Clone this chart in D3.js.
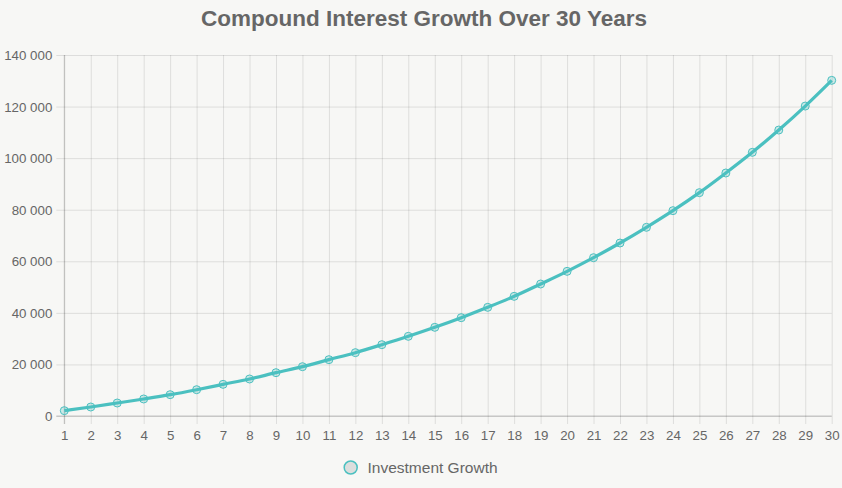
<!DOCTYPE html>
<html>
<head>
<meta charset="utf-8">
<script src="https://cdn.jsdelivr.net/npm/d3@7"></script>
<style>
  html, body { margin: 0; padding: 0; background: #f7f7f5; }
  svg { display: block; font-family: "Liberation Sans", Arial, sans-serif; }
</style>
</head>
<body>
<svg id="chart" width="842" height="488"></svg>
<script>
const title = "Compound Interest Growth Over 30 Years";
const seriesName = "Investment Growth";
const years = d3.range(1, 31);
const values = [2070, 3490, 5040, 6600, 8270, 10200, 12280, 14350, 16800, 19130,
                21850, 24560, 27660, 30900, 34390, 38130, 42140, 46410, 51190, 56100,
                61400, 67090, 73170, 79630, 86610, 94240, 102250, 110900, 120200, 130170];
const yTicks = [0, 20000, 40000, 60000, 80000, 100000, 120000, 140000];

const svg = d3.select("#chart");
const W = 842, H = 488;
const m = { left: 64.3, right: 842 - 831.7, top: 55, bottom: 488 - 416 };

const x = d3.scaleLinear().domain([1, 30]).range([m.left, W - m.right]);
const y = d3.scaleLinear().domain([0, 140000]).range([H - m.bottom, m.top]);

const fmt = v => d3.format(",")(v).replace(/,/g, " ");
const gridColor = "rgba(0,0,0,0.1)";
const textColor = "#666";
const fontFam = "'Liberation Sans', Arial, sans-serif";

// Title
svg.append("text")
  .attr("x", 424).attr("y", 26)
  .attr("text-anchor", "middle")
  .attr("font-size", 22.5).attr("font-weight", "bold")
  .attr("fill", textColor)
  .text(title);

// Y axis with grid
const yAxis = svg.append("g")
  .attr("transform", `translate(${m.left},0)`)
  .call(d3.axisLeft(y).tickValues(yTicks).tickFormat(fmt)
        .tickSize(-(W - m.left - m.right)));
yAxis.attr("font-family", fontFam);
yAxis.select(".domain").remove();
yAxis.selectAll(".tick line").attr("stroke", gridColor).attr("x1", -8);
yAxis.selectAll(".tick text").attr("font-size", 13.3).attr("fill", textColor)
  .attr("x", -12).attr("dy", "0.34em");

// X axis with grid
const xAxis = svg.append("g")
  .attr("transform", `translate(0,${H - m.bottom})`)
  .call(d3.axisBottom(x).tickValues(years).tickFormat(d3.format("d"))
        .tickSize(-(H - m.top - m.bottom)));
xAxis.attr("font-family", fontFam);
xAxis.select(".domain").remove();
xAxis.selectAll(".tick line").attr("stroke", gridColor).attr("y1", 8);
xAxis.selectAll(".tick text").attr("font-size", 13.3).attr("fill", textColor)
  .attr("y", 15).attr("dy", "0.71em");

// Axis border lines
svg.append("line")
  .attr("x1", m.left - 8).attr("x2", W - m.right)
  .attr("y1", y(0)).attr("y2", y(0))
  .attr("stroke", "rgba(0,0,0,0.2)");
svg.append("line")
  .attr("x1", m.left).attr("x2", m.left)
  .attr("y1", m.top).attr("y2", y(0) + 8)
  .attr("stroke", "rgba(0,0,0,0.2)");

// Line
const data = years.map((yr, i) => ({ yr, v: values[i] }));
const line = d3.line().x(d => x(d.yr)).y(d => y(d.v)).curve(d3.curveMonotoneX);
svg.append("path")
  .datum(data)
  .attr("d", line)
  .attr("fill", "none")
  .attr("stroke", "#4bc0c0")
  .attr("stroke-width", 3.2);

// Points
svg.append("g").selectAll("circle")
  .data(data).join("circle")
  .attr("cx", d => x(d.yr)).attr("cy", d => y(d.v))
  .attr("r", 4)
  .attr("fill", "rgba(75,192,192,0.25)")
  .attr("stroke", "#4bc0c0")
  .attr("stroke-width", 1);

// Legend
const lg = svg.append("g");
lg.append("circle")
  .attr("cx", 350.7).attr("cy", 467.5).attr("r", 6.5)
  .attr("fill", "#dcdedd").attr("stroke", "#4bc0c0").attr("stroke-width", 1.5);
lg.append("text")
  .attr("x", 367.5).attr("y", 467.5).attr("dy", "0.35em")
  .attr("font-size", 15.5).attr("fill", textColor)
  .text(seriesName);
</script>
</body>
</html>
